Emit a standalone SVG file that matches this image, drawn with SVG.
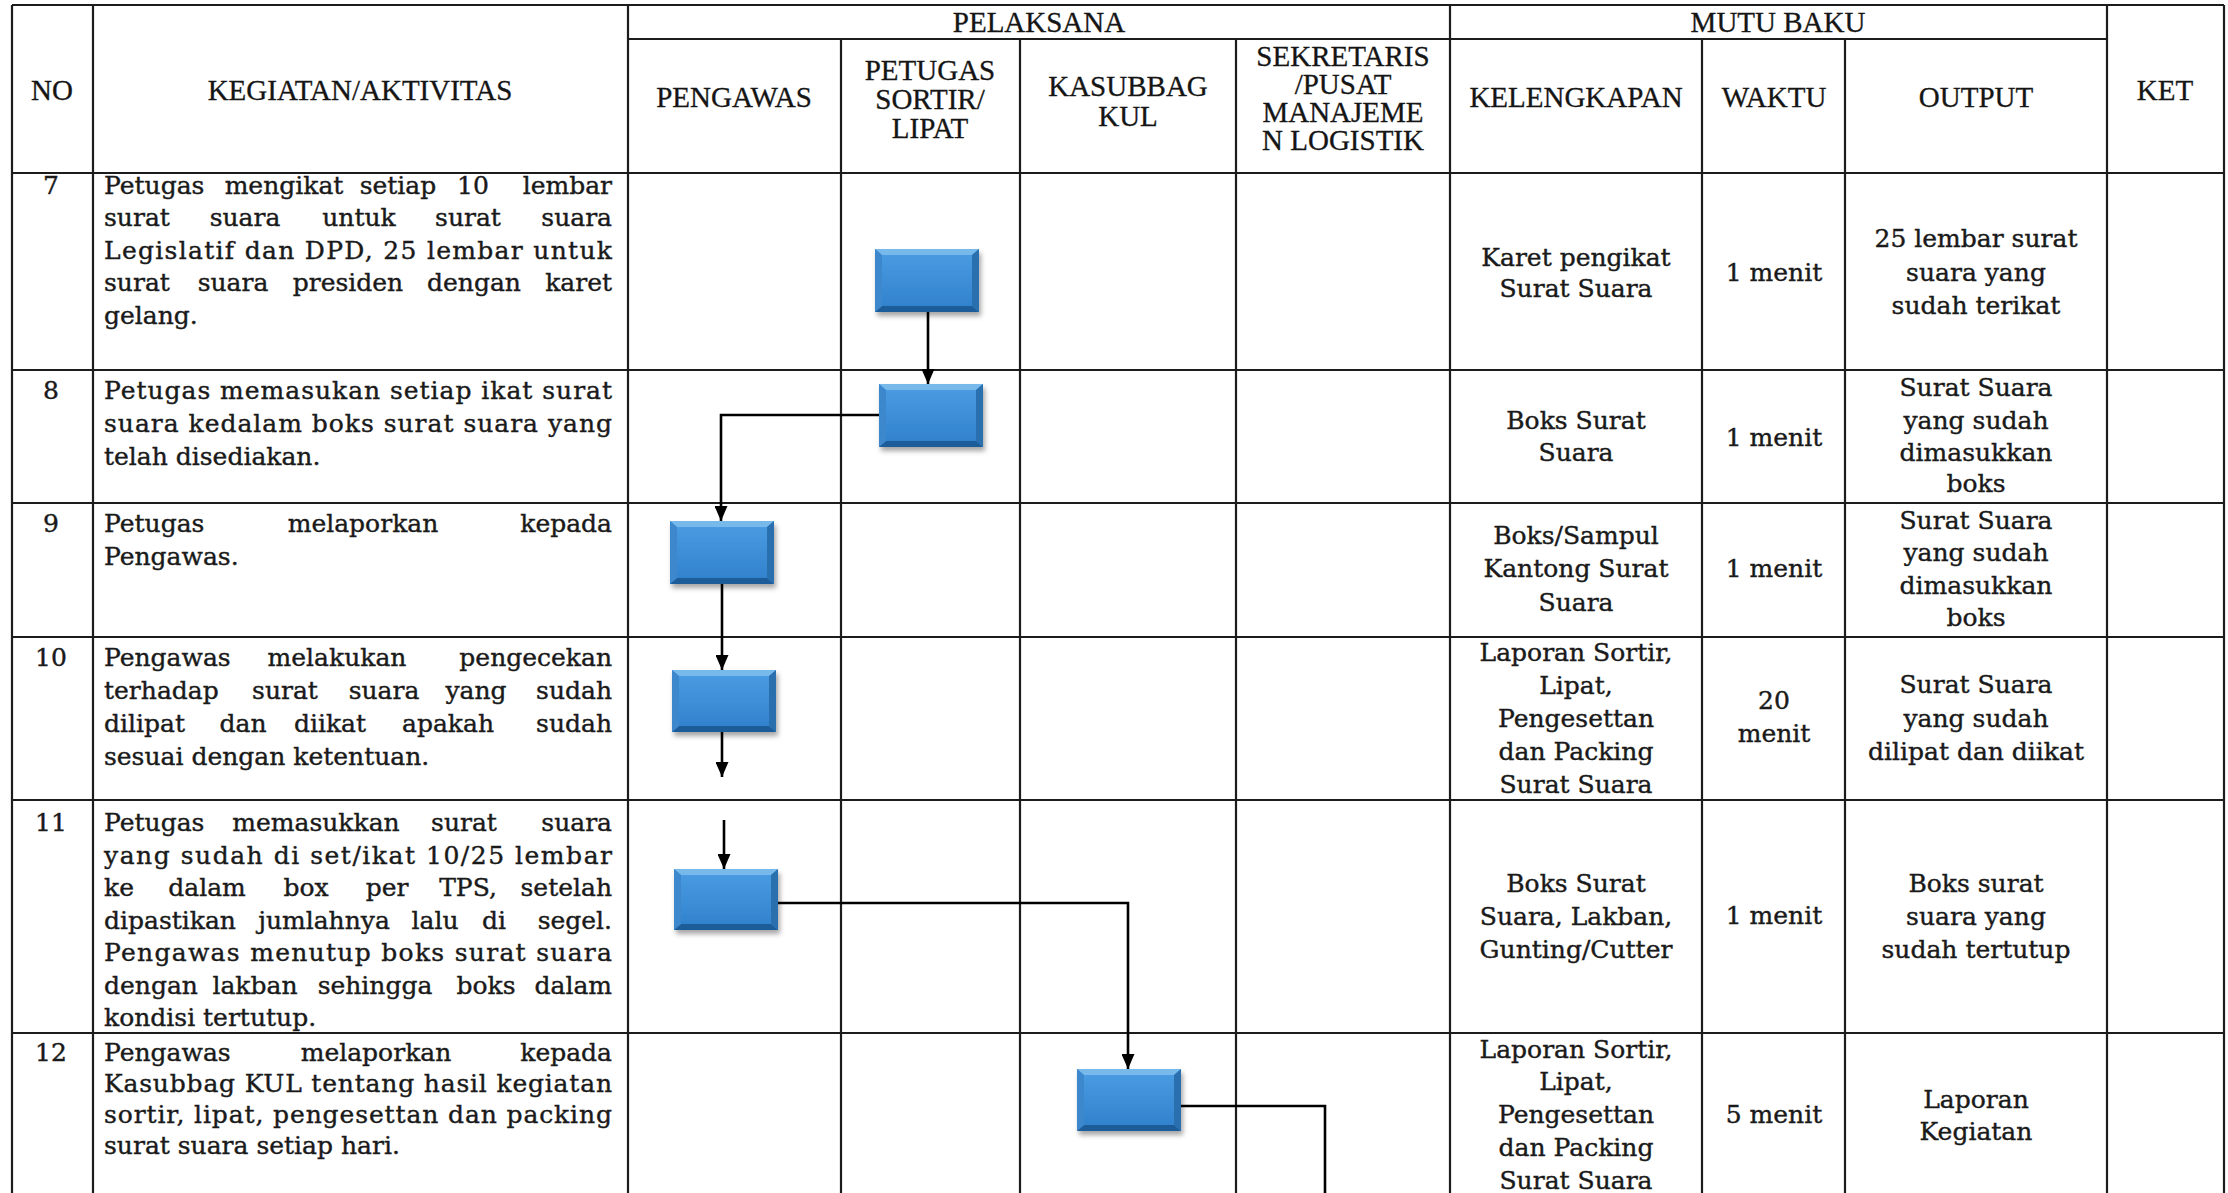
<svg xmlns="http://www.w3.org/2000/svg" width="2228" height="1193" viewBox="0 0 2228 1193">
<style>
.grid line{stroke:#1c1c1c;stroke-width:2.2}
.h{font-family:"Liberation Serif",serif;font-size:29px;fill:#151515;stroke:#151515;stroke-width:0.3;text-anchor:middle}
.b{font-family:"DejaVu Serif",serif;font-size:25px;fill:#1a1a1a;stroke:#1a1a1a;stroke-width:0.4}
.c{font-family:"DejaVu Serif",serif;font-size:25px;fill:#1a1a1a;stroke:#1a1a1a;stroke-width:0.4;text-anchor:middle}
.m{text-anchor:middle}
.e{text-anchor:end}
.face{fill:url(#gface)}
.bt{fill:#78b9ec}
.bb{fill:#1f5c98}
.bl{fill:#3d88cc}
.br{fill:#2b6fae}
.conn path{fill:none;stroke:#000;stroke-width:2.6}
</style>
<defs>
<linearGradient id="gface" x1="0" y1="0" x2="0" y2="1">
<stop offset="0" stop-color="#4b9de2"/>
<stop offset="1" stop-color="#2f80cc"/>
</linearGradient>
<filter id="sh" x="-20%" y="-20%" width="150%" height="160%">
<feDropShadow dx="2" dy="4" stdDeviation="2.5" flood-color="#000" flood-opacity="0.35"/>
</filter>
<marker id="arr" viewBox="0 0 15 13" refX="15" refY="6.5" markerWidth="15" markerHeight="13" orient="auto" markerUnits="userSpaceOnUse">
<path d="M0,0 L15,6.5 L0,13 z" fill="#000"/>
</marker>
</defs>
<rect width="2228" height="1193" fill="#ffffff"/>

<g class="grid">
<line x1="12" y1="5" x2="2224" y2="5"/>
<line x1="628" y1="39" x2="2107" y2="39"/>
<line x1="12" y1="173" x2="2224" y2="173"/>
<line x1="12" y1="370" x2="2224" y2="370"/>
<line x1="12" y1="503" x2="2224" y2="503"/>
<line x1="12" y1="637" x2="2224" y2="637"/>
<line x1="12" y1="800" x2="2224" y2="800"/>
<line x1="12" y1="1033" x2="2224" y2="1033"/>
<line x1="12" y1="5" x2="12" y2="1193"/>
<line x1="93" y1="5" x2="93" y2="1193"/>
<line x1="628" y1="5" x2="628" y2="1193"/>
<line x1="841" y1="39" x2="841" y2="1193"/>
<line x1="1020" y1="39" x2="1020" y2="1193"/>
<line x1="1236" y1="39" x2="1236" y2="1193"/>
<line x1="1450" y1="5" x2="1450" y2="1193"/>
<line x1="1702" y1="39" x2="1702" y2="1193"/>
<line x1="1845" y1="39" x2="1845" y2="1193"/>
<line x1="2107" y1="5" x2="2107" y2="1193"/>
<line x1="2224" y1="5" x2="2224" y2="1193"/>
</g>

<g id="header">
<text class="h" x="1039" y="32">PELAKSANA</text>
<text class="h" x="1778" y="32">MUTU BAKU</text>
<text class="h" x="52" y="100">NO</text>
<text class="h" x="360" y="100">KEGIATAN/AKTIVITAS</text>
<text class="h" x="2165" y="100">KET</text>
<text class="h" x="734" y="107">PENGAWAS</text>
<text class="h" x="930" y="80">PETUGAS</text>
<text class="h" x="930" y="109">SORTIR/</text>
<text class="h" x="930" y="138">LIPAT</text>
<text class="h" x="1128" y="96">KASUBBAG</text>
<text class="h" x="1128" y="126">KUL</text>
<text class="h" x="1343" y="66">SEKRETARIS</text>
<text class="h" x="1343" y="94">/PUSAT</text>
<text class="h" x="1343" y="122">MANAJEME</text>
<text class="h" x="1343" y="150">N LOGISTIK</text>
<text class="h" x="1576" y="107">KELENGKAPAN</text>
<text class="h" x="1774" y="107">WAKTU</text>
<text class="h" x="1976" y="107">OUTPUT</text>
</g>

<g id="row7">
<text class="c" x="51" y="194">7</text>
<text class="b" x="104" y="194">Petugas</text><text class="b m" x="284" y="194">mengikat</text><text class="b m" x="398" y="194">setiap</text><text class="b m" x="473" y="194">10</text><text class="b e" x="612" y="194">lembar</text>
<text class="b" x="104" y="226">surat</text><text class="b m" x="245" y="226">suara</text><text class="b m" x="359" y="226">untuk</text><text class="b m" x="468" y="226">surat</text><text class="b e" x="612" y="226">suara</text>
<text class="b" x="104" y="259" textLength="508" lengthAdjust="spacing">Legislatif dan DPD,  25 lembar untuk</text>
<text class="b" x="104" y="291">surat</text><text class="b m" x="233" y="291">suara</text><text class="b m" x="348" y="291">presiden</text><text class="b m" x="474" y="291">dengan</text><text class="b e" x="612" y="291">karet</text>
<text class="b" x="104" y="324">gelang.</text>
<text class="c" x="1576" y="266">Karet pengikat</text>
<text class="c" x="1576" y="297">Surat Suara</text>
<text class="c" x="1774" y="281">1 menit</text>
<text class="c" x="1976" y="247">25 lembar surat</text>
<text class="c" x="1976" y="281">suara yang</text>
<text class="c" x="1976" y="314">sudah terikat</text>
</g>

<g id="row8">
<text class="c" x="51" y="399">8</text>
<text class="b" x="104" y="399" textLength="508" lengthAdjust="spacing">Petugas memasukan setiap ikat surat</text>
<text class="b" x="104" y="432" textLength="508" lengthAdjust="spacing">suara kedalam boks surat suara yang</text>
<text class="b" x="104" y="465">telah disediakan.</text>
<text class="c" x="1576" y="429">Boks Surat</text>
<text class="c" x="1576" y="461">Suara</text>
<text class="c" x="1774" y="446">1 menit</text>
<text class="c" x="1976" y="396">Surat Suara</text>
<text class="c" x="1976" y="429">yang sudah</text>
<text class="c" x="1976" y="461">dimasukkan</text>
<text class="c" x="1976" y="492">boks</text>
</g>

<g id="row9">
<text class="c" x="51" y="532">9</text>
<text class="b" x="104" y="532">Petugas</text><text class="b m" x="363" y="532">melaporkan</text><text class="b e" x="612" y="532">kepada</text>
<text class="b" x="104" y="565">Pengawas.</text>
<text class="c" x="1576" y="544">Boks/Sampul</text>
<text class="c" x="1576" y="577">Kantong Surat</text>
<text class="c" x="1576" y="611">Suara</text>
<text class="c" x="1774" y="577">1 menit</text>
<text class="c" x="1976" y="529">Surat Suara</text>
<text class="c" x="1976" y="561">yang sudah</text>
<text class="c" x="1976" y="594">dimasukkan</text>
<text class="c" x="1976" y="626">boks</text>
</g>

<g id="row10">
<text class="c" x="51" y="666">10</text>
<text class="b" x="104" y="666">Pengawas</text><text class="b m" x="337" y="666">melakukan</text><text class="b e" x="612" y="666">pengecekan</text>
<text class="b" x="104" y="699">terhadap</text><text class="b m" x="285" y="699">surat</text><text class="b m" x="384" y="699">suara</text><text class="b m" x="476" y="699">yang</text><text class="b e" x="612" y="699">sudah</text>
<text class="b" x="104" y="732">dilipat</text><text class="b m" x="243" y="732">dan</text><text class="b m" x="330" y="732">diikat</text><text class="b m" x="448" y="732">apakah</text><text class="b e" x="612" y="732">sudah</text>
<text class="b" x="104" y="765">sesuai dengan ketentuan.</text>
<text class="c" x="1576" y="661">Laporan Sortir,</text>
<text class="c" x="1576" y="694">Lipat,</text>
<text class="c" x="1576" y="727">Pengesettan</text>
<text class="c" x="1576" y="760">dan Packing</text>
<text class="c" x="1576" y="793">Surat Suara</text>
<text class="c" x="1774" y="709">20</text>
<text class="c" x="1774" y="742">menit</text>
<text class="c" x="1976" y="693">Surat Suara</text>
<text class="c" x="1976" y="727">yang sudah</text>
<text class="c" x="1976" y="760">dilipat dan diikat</text>
</g>

<g id="row11">
<text class="c" x="51" y="831">11</text>
<text class="b" x="104" y="831">Petugas</text><text class="b m" x="316" y="831">memasukkan</text><text class="b m" x="464" y="831">surat</text><text class="b e" x="612" y="831">suara</text>
<text class="b" x="104" y="864" textLength="508" lengthAdjust="spacing">yang sudah di set/ikat 10/25 lembar</text>
<text class="b" x="104" y="896">ke</text><text class="b m" x="207" y="896">dalam</text><text class="b m" x="306" y="896">box</text><text class="b m" x="387" y="896">per</text><text class="b m" x="468" y="896">TPS,</text><text class="b e" x="612" y="896">setelah</text>
<text class="b" x="104" y="929">dipastikan</text><text class="b m" x="324" y="929">jumlahnya</text><text class="b m" x="435" y="929">lalu</text><text class="b m" x="494" y="929">di</text><text class="b e" x="612" y="929">segel.</text>
<text class="b" x="104" y="961" textLength="508" lengthAdjust="spacing">Pengawas menutup boks surat suara</text>
<text class="b" x="104" y="994">dengan</text><text class="b m" x="255" y="994">lakban</text><text class="b m" x="375" y="994">sehingga</text><text class="b m" x="486" y="994">boks</text><text class="b e" x="612" y="994">dalam</text>
<text class="b" x="104" y="1026">kondisi tertutup.</text>
<text class="c" x="1576" y="892">Boks Surat</text>
<text class="c" x="1576" y="925">Suara, Lakban,</text>
<text class="c" x="1576" y="958">Gunting/Cutter</text>
<text class="c" x="1774" y="924">1 menit</text>
<text class="c" x="1976" y="892">Boks surat</text>
<text class="c" x="1976" y="925">suara yang</text>
<text class="c" x="1976" y="958">sudah tertutup</text>
</g>

<g id="row12">
<text class="c" x="51" y="1061">12</text>
<text class="b" x="104" y="1061">Pengawas</text><text class="b m" x="376" y="1061">melaporkan</text><text class="b e" x="612" y="1061">kepada</text>
<text class="b" x="104" y="1092" textLength="508" lengthAdjust="spacing">Kasubbag KUL tentang hasil kegiatan</text>
<text class="b" x="104" y="1123" textLength="508" lengthAdjust="spacing">sortir, lipat, pengesettan dan packing</text>
<text class="b" x="104" y="1154">surat suara setiap hari.</text>
<text class="c" x="1576" y="1058">Laporan Sortir,</text>
<text class="c" x="1576" y="1090">Lipat,</text>
<text class="c" x="1576" y="1123">Pengesettan</text>
<text class="c" x="1576" y="1156">dan Packing</text>
<text class="c" x="1576" y="1189">Surat Suara</text>
<text class="c" x="1774" y="1123">5 menit</text>
<text class="c" x="1976" y="1108">Laporan</text>
<text class="c" x="1976" y="1140">Kegiatan</text>
</g>

<g id="connectors" class="conn">
<path d="M928,312 V384" marker-end="url(#arr)"/>
<path d="M879,415 H721 V521" marker-end="url(#arr)"/>
<path d="M722,583 V670" marker-end="url(#arr)"/>
<path d="M722,731 V777" marker-end="url(#arr)"/>
<path d="M724,820 V869" marker-end="url(#arr)"/>
<path d="M777,903 H1128 V1069" marker-end="url(#arr)"/>
<path d="M1181,1106 H1325 V1193"/>
</g>

<g id="node-b7" transform="translate(875,249)" filter="url(#sh)">
<rect class="face" width="104" height="63"/>
<polygon class="bt" points="0,0 104,0 97,6 7,6"/>
<polygon class="bb" points="0,63 104,63 97,57 7,57"/>
<polygon class="bl" points="0,0 7,6 7,57 0,63"/>
<polygon class="br" points="104,0 97,6 97,57 104,63"/>
</g>
<g id="node-b8" transform="translate(879,384)" filter="url(#sh)">
<rect class="face" width="104" height="63"/>
<polygon class="bt" points="0,0 104,0 97,6 7,6"/>
<polygon class="bb" points="0,63 104,63 97,57 7,57"/>
<polygon class="bl" points="0,0 7,6 7,57 0,63"/>
<polygon class="br" points="104,0 97,6 97,57 104,63"/>
</g>
<g id="node-b9" transform="translate(670,521)" filter="url(#sh)">
<rect class="face" width="104" height="63"/>
<polygon class="bt" points="0,0 104,0 97,6 7,6"/>
<polygon class="bb" points="0,63 104,63 97,57 7,57"/>
<polygon class="bl" points="0,0 7,6 7,57 0,63"/>
<polygon class="br" points="104,0 97,6 97,57 104,63"/>
</g>
<g id="node-b10" transform="translate(672,670)" filter="url(#sh)">
<rect class="face" width="104" height="62"/>
<polygon class="bt" points="0,0 104,0 97,6 7,6"/>
<polygon class="bb" points="0,62 104,62 97,56 7,56"/>
<polygon class="bl" points="0,0 7,6 7,56 0,62"/>
<polygon class="br" points="104,0 97,6 97,56 104,62"/>
</g>
<g id="node-b11" transform="translate(674,869)" filter="url(#sh)">
<rect class="face" width="104" height="61"/>
<polygon class="bt" points="0,0 104,0 97,6 7,6"/>
<polygon class="bb" points="0,61 104,61 97,55 7,55"/>
<polygon class="bl" points="0,0 7,6 7,55 0,61"/>
<polygon class="br" points="104,0 97,6 97,55 104,61"/>
</g>
<g id="node-b12" transform="translate(1077,1069)" filter="url(#sh)">
<rect class="face" width="104" height="62"/>
<polygon class="bt" points="0,0 104,0 97,6 7,6"/>
<polygon class="bb" points="0,62 104,62 97,56 7,56"/>
<polygon class="bl" points="0,0 7,6 7,56 0,62"/>
<polygon class="br" points="104,0 97,6 97,56 104,62"/>
</g>
</svg>
